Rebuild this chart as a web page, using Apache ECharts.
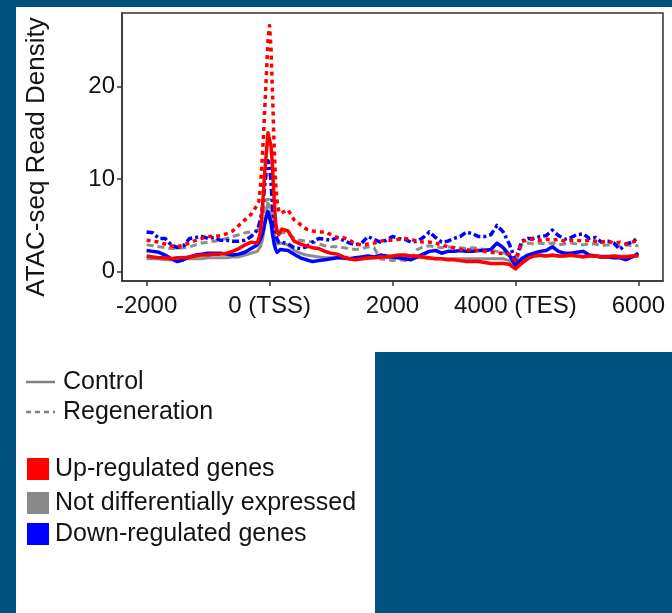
<!DOCTYPE html>
<html>
<head>
<meta charset="utf-8">
<script src="https://cdn.jsdelivr.net/npm/echarts@6/dist/echarts.min.js"></script>
<style>
  html, body { margin: 0; padding: 0; background: #00527f; }
  #chart { width: 672px; height: 613px; }
</style>
</head>
<body>
<div id="chart"></div>
<script>
// Distance from gene feature (bp); finer steps around the TSS peak
const positions = [
  -2000, -1900, -1800, -1700, -1600, -1500, -1400, -1300, -1200, -1100, -1000, -900, -800, -700, -600, -500, -400, -300,
  -200, -175, -150, -125, -100, -75, -50, -25, 0, 25, 50, 75, 100, 125, 150, 175, 200,
  300, 400, 500, 600, 700, 800, 900, 1000,
  1100, 1200, 1300, 1400, 1500, 1600, 1700, 1800, 1900, 2000,
  2100, 2200, 2300, 2400, 2500, 2600, 2700, 2800, 2900, 3000,
  3100, 3200, 3300, 3400, 3500, 3600, 3700, 3800, 3900, 4000,
  4100, 4200, 4300, 4400, 4500, 4600, 4700, 4800, 4900, 5000,
  5100, 5200, 5300, 5400, 5500, 5600, 5700, 5800, 5900, 6000
];

// ATAC-seq read density, up-regulated genes
const upRegeneration = [
  3.4, 3.3, 3.2, 3.0, 2.8, 2.7, 2.9, 3.1, 3.4, 3.6, 3.8, 3.8, 3.9, 4.1, 4.4, 5.0, 5.6, 6.2,
  7.2, 7.6, 9.0, 11.5, 14.5, 18.0, 21.5, 25.0, 26.6, 24.0, 19.0, 13.5, 9.5, 7.6, 6.6, 6.3, 6.5,
  6.7, 5.6, 5.1, 4.6, 4.4, 4.3, 4.3, 4.0,
  3.7, 3.7, 3.4, 3.0, 2.9, 3.0, 3.1, 3.3, 3.4, 3.4,
  3.5, 3.6, 3.5, 3.3, 3.2, 3.2, 3.1, 2.9, 2.7, 2.6,
  2.4, 2.4, 2.3, 2.3, 2.2, 2.1, 2.0, 2.0, 1.9, 1.2,
  3.2, 3.5, 3.5, 3.4, 3.5, 3.4, 3.5, 3.3, 3.4, 3.4,
  3.3, 3.4, 3.3, 3.2, 3.3, 3.1, 3.2, 3.0, 3.2, 3.4
];
const upControl = [
  1.7, 1.6, 1.5, 1.5, 1.4, 1.5, 1.5, 1.6, 1.7, 1.8, 1.8, 1.9, 1.9, 2.0, 2.2, 2.5, 2.9, 3.2,
  3.1, 3.6, 4.2, 6.0, 8.5, 11.0, 13.0, 15.0, 14.8, 13.5, 11.0, 7.8, 5.2, 4.3, 4.0, 4.3, 4.6,
  4.4, 3.3, 3.0, 2.8, 2.6, 2.5, 2.2, 2.0,
  1.9, 1.6, 1.4, 1.3, 1.4, 1.5, 1.5, 1.6, 1.6, 1.7,
  1.8, 1.8, 1.7, 1.7, 1.6, 1.5, 1.4, 1.4, 1.3, 1.3,
  1.2, 1.1, 1.1, 1.1, 1.0, 0.9, 0.9, 0.9, 0.8, 0.3,
  0.9, 1.4, 1.7, 1.8, 1.7, 1.8, 1.7, 1.7, 1.8, 1.7,
  1.6, 1.7, 1.7, 1.6, 1.6, 1.7, 1.6, 1.6, 1.7, 1.7
];

// Not differentially expressed genes
const notDiffRegeneration = [
  2.9, 2.8, 2.7, 2.6, 2.5, 2.5, 2.6, 2.7, 2.9, 3.1, 3.2, 3.3, 3.4, 3.6, 3.8, 4.0, 4.2, 4.3,
  4.4, 4.6, 5.0, 5.6, 6.4, 7.2, 7.8, 8.0, 7.8, 7.0, 5.9, 5.0, 4.4, 4.0, 4.0, 4.2, 4.4,
  4.2, 3.6, 3.4, 3.3, 3.2, 3.0, 2.8, 2.7,
  2.7, 2.6, 2.5, 2.4, 2.5, 2.7, 2.6, 1.4, 1.3, 1.2,
  1.3, 1.2, 1.3, 2.4, 2.7, 2.8, 2.7, 2.6, 2.7, 2.6,
  2.6, 2.5, 2.6, 2.5, 2.4, 2.3, 2.2, 2.1, 1.7, 0.8,
  2.9, 3.1, 3.0, 3.1, 3.0, 3.1, 2.9, 3.0, 3.1, 3.0,
  2.9, 3.0, 3.0, 2.8, 2.9, 2.9, 2.8, 2.9, 2.8, 2.8
];
const notDiffControl = [
  1.4, 1.4, 1.4, 1.3, 1.3, 1.3, 1.4, 1.4, 1.4, 1.4, 1.5, 1.5, 1.5, 1.5, 1.6, 1.6, 1.8, 2.0,
  2.2, 2.4, 2.7, 3.2, 4.0, 5.2, 6.5, 7.4, 7.6, 6.8, 5.3, 4.0, 3.3, 3.0, 2.9, 3.1, 3.2,
  2.9, 2.3, 2.0, 1.8, 1.7, 1.6, 1.5, 1.5,
  1.5, 1.4, 1.4, 1.4, 1.4, 1.4, 1.5, 1.5, 1.5, 1.5,
  1.5, 1.5, 1.5, 1.5, 1.5, 1.4, 1.4, 1.4, 1.4, 1.4,
  1.4, 1.4, 1.4, 1.4, 1.4, 1.4, 1.4, 1.4, 1.2, 0.5,
  1.2, 1.6, 1.7, 1.7, 1.7, 1.7, 1.7, 1.7, 1.7, 1.7,
  1.7, 1.7, 1.7, 1.7, 1.7, 1.7, 1.7, 1.7, 1.7, 1.7
];

// Down-regulated genes
const downRegeneration = [
  4.3, 4.2, 3.6, 3.6, 2.9, 2.6, 2.8, 3.6, 3.7, 3.8, 3.6, 3.7, 3.4, 3.4, 3.3, 3.3, 3.4, 3.8,
  4.5, 5.0, 5.6, 6.5, 7.8, 9.5, 11.0, 12.0, 11.5, 9.5, 7.0, 5.0, 3.9, 3.5, 3.2, 3.3, 3.2,
  3.0, 2.6, 2.5, 2.7, 3.2, 3.6, 3.5, 3.4,
  3.7, 3.4, 3.1, 2.9, 3.1, 3.8, 3.5, 3.2, 3.4, 3.8,
  3.6, 3.5, 3.2, 3.3, 3.7, 4.3, 3.7, 3.2, 3.3, 3.6,
  3.8, 4.3, 4.1, 3.8, 3.8, 4.0, 5.0, 4.3, 3.0, 1.2,
  3.3, 3.6, 3.6, 3.8, 3.9, 4.5, 3.9, 3.5, 3.7, 4.0,
  4.1, 3.6, 3.7, 3.2, 3.3, 3.1, 2.4, 3.0, 3.2, 3.7
];
const downControl = [
  2.3, 2.2, 2.1, 1.8, 1.4, 1.1, 1.3, 1.6, 1.8, 1.9, 2.0, 2.0, 2.0, 1.9, 1.8, 1.9, 2.1, 2.5,
  2.9, 3.2, 3.5, 3.9, 4.5, 5.3, 6.0, 6.5, 6.3, 5.2, 4.0, 3.0, 2.4, 2.1, 2.2, 2.4, 2.5,
  2.3, 1.9, 1.5, 1.3, 1.1, 1.2, 1.3, 1.4,
  1.5, 1.5, 1.4, 1.5, 1.6, 1.7, 1.6, 1.8, 1.7, 1.6,
  1.5, 1.4, 1.3, 1.6, 1.9, 2.2, 2.3, 2.0, 2.2, 2.2,
  2.3, 2.2, 2.2, 2.3, 2.3, 2.4, 3.1, 2.6, 1.8, 0.7,
  1.4, 1.8, 2.0, 2.2, 2.3, 2.7, 2.2, 2.0, 2.0, 2.1,
  2.2, 1.8, 1.7, 1.6, 1.6, 1.5, 1.5, 1.3, 1.6, 2.0
];

const xTickValues = [-2000, 0, 2000, 4000, 6000];
const xTickLabels = ['-2000', '0 (TSS)', '2000', '4000 (TES)', '6000'];
const yTickValues = [0, 10, 20];
const yTitle = 'ATAC-seq Read Density';

const conditionLabels = ['Control', 'Regeneration'];
const groupLabels = ['Up-regulated genes', 'Not differentially expressed', 'Down-regulated genes'];
const groupColors = ['#ff0000', '#898989', '#0000ff'];

const FONT = '"Liberation Sans", Arial, sans-serif';
const INK = '#141414';

const pairs = vals => positions.map((x, i) => [x, vals[i]]);

function lineSeries(name, vals, color, width, dash, z) {
  return {
    name: name,
    type: 'line',
    data: pairs(vals),
    showSymbol: false,
    smooth: false,
    animation: false,
    z: z,
    lineStyle: { color: color, width: width, type: dash, cap: 'butt', join: 'round' }
  };
}

const chart = echarts.init(document.getElementById('chart'), null, { renderer: 'canvas' });

const legendGraphics = [
  // white panels
  { type: 'rect', z: -100, shape: { x: 16, y: 7, width: 656, height: 345 }, style: { fill: '#ffffff' }, silent: true },
  { type: 'rect', z: -100, shape: { x: 16, y: 352, width: 359, height: 261 }, style: { fill: '#ffffff' }, silent: true },
  // y axis title
  {
    type: 'text', x: 37, y: 157, rotation: Math.PI / 2,
    style: { text: yTitle, font: '26px ' + FONT, fill: INK, align: 'center', verticalAlign: 'middle' }
  },
  // line-type key
  { type: 'line', shape: { x1: 26, y1: 382, x2: 55, y2: 382 }, style: { stroke: '#808080', lineWidth: 2.5 } },
  { type: 'text', x: 63, y: 382, style: { text: conditionLabels[0], font: '25px ' + FONT, fill: INK, verticalAlign: 'middle' } },
  { type: 'line', shape: { x1: 26, y1: 412, x2: 55, y2: 412 }, style: { stroke: '#808080', lineWidth: 2.5, lineDash: [5, 4] } },
  { type: 'text', x: 63, y: 412, style: { text: conditionLabels[1], font: '25px ' + FONT, fill: INK, verticalAlign: 'middle' } }
];
const keyRows = [469, 503, 534];
groupLabels.forEach((label, i) => {
  legendGraphics.push({ type: 'rect', shape: { x: 27, y: keyRows[i] - 11, width: 22, height: 22 }, style: { fill: groupColors[i] } });
  legendGraphics.push({ type: 'text', x: 55, y: keyRows[i], style: { text: label, font: '25px ' + FONT, fill: INK, verticalAlign: 'middle' } });
});

const axisCommon = {
  type: 'value',
  splitLine: { show: false },
  axisLine: { show: true, onZero: false, lineStyle: { color: '#333333', width: 1.5 } },
  axisTick: { show: true, length: 5, lineStyle: { color: '#333333', width: 1.5 } }
};

chart.setOption({
  backgroundColor: '#00527f',
  animation: false,
  grid: {
    left: 122, right: 9, top: 13, bottom: 332,
    show: true, backgroundColor: '#ffffff', borderColor: '#333333', borderWidth: 1.5
  },
  xAxis: Object.assign({}, axisCommon, {
    min: -2400, max: 6400,
    axisTick: Object.assign({}, axisCommon.axisTick, { customValues: xTickValues }),
    axisLabel: {
      customValues: xTickValues,
      formatter: v => xTickLabels[xTickValues.indexOf(v)],
      fontSize: 24, fontFamily: FONT, color: INK, margin: 13
    }
  }),
  yAxis: Object.assign({}, axisCommon, {
    min: -1, max: 27.94,
    axisTick: Object.assign({}, axisCommon.axisTick, { customValues: yTickValues }),
    axisLabel: {
      customValues: yTickValues,
      fontSize: 24, fontFamily: FONT, color: INK, margin: 7
    }
  }),
  graphic: legendGraphics,
  series: [
    lineSeries('Not differentially expressed, Regeneration', notDiffRegeneration, '#8c8c8c', 3, [7, 4], 2),
    lineSeries('Not differentially expressed, Control', notDiffControl, '#8c8c8c', 3, 'solid', 3),
    lineSeries('Down-regulated genes, Regeneration', downRegeneration, '#0000ff', 3.5, [7, 3, 3, 3], 4),
    lineSeries('Down-regulated genes, Control', downControl, '#0000ff', 3.5, 'solid', 5),
    lineSeries('Up-regulated genes, Control', upControl, '#ff0000', 3.5, 'solid', 6),
    lineSeries('Up-regulated genes, Regeneration', upRegeneration, '#ff0000', 3.5, [4, 4], 7)
  ]
});
</script>
</body>
</html>
